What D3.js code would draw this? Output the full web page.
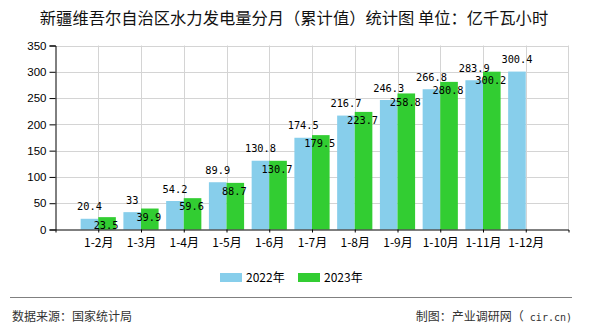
<!DOCTYPE html>
<html>
<head>
<meta charset="utf-8">
<script src="https://cdn.jsdelivr.net/npm/d3@7/dist/d3.min.js"></script>
<style>
  html, body { margin: 0; padding: 0; background: #fff; }
  svg { display: block; }
</style>
</head>
<body>
<svg id="chart" width="590" height="330"></svg>
<script>
// Monthly cumulative hydropower generation, Xinjiang (100 million kWh)
const categories = ["1-2月", "1-3月", "1-4月", "1-5月", "1-6月", "1-7月", "1-8月", "1-9月", "1-10月", "1-11月", "1-12月"];
const values2022 = [20.4, 33, 54.2, 89.9, 130.8, 174.5, 216.7, 246.3, 266.8, 283.9, 300.4];
const values2023 = [23.5, 39.9, 59.6, 88.7, 130.7, 179.5, 223.7, 258.8, 280.8, 300.2, null];
const yTicks = [0, 50, 100, 150, 200, 250, 300, 350];
const seriesNames = ["2022年", "2023年"];
const seriesColors = ["#87CEEB", "#32CD32"];

const titleText = "新疆维吾尔自治区水力发电量分月（累计值）统计图 单位：亿千瓦小时";
const sourceText = "数据来源：国家统计局";
const creditParts = ["制图：产业调研网（", " cir.cn)"];

const svg = d3.select("#chart");
const cjk = "'Noto Sans CJK SC', 'Noto Sans', sans-serif";
const mono = "'DejaVu Sans Mono', 'Liberation Mono', monospace";

const plot = { left: 55.5, right: 568.5, top: 45.5, bottom: 229.5 };

const x = d3.scalePoint().domain(categories).range([plot.left, plot.right]).padding(1);
const y = d3.scaleLinear().domain([0, 350]).range([plot.bottom, plot.top]);
const barW = 17.6;

// Title
svg.append("text")
  .attr("x", 294).attr("y", 24)
  .attr("text-anchor", "middle")
  .attr("font-family", cjk).attr("font-size", 16.3)
  .attr("fill", "#111")
  .text(titleText);

// Grid
const grid = svg.append("g").attr("stroke", "#d4d4d4").attr("stroke-width", 1);
grid.selectAll("line.h").data(yTicks.filter(d => d > 0)).join("line")
  .attr("x1", plot.left).attr("x2", plot.right)
  .attr("y1", d => Math.round(y(d)) + 0.5).attr("y2", d => Math.round(y(d)) + 0.5);
grid.selectAll("line.v").data(categories).join("line")
  .attr("x1", d => Math.round(x(d)) + 0.5).attr("x2", d => Math.round(x(d)) + 0.5)
  .attr("y1", plot.top).attr("y2", plot.bottom);
grid.append("line")
  .attr("x1", plot.right).attr("x2", plot.right)
  .attr("y1", plot.top).attr("y2", plot.bottom);

// Bars
const bars = svg.append("g");
bars.selectAll("rect.s22").data(categories).join("rect")
  .attr("x", (d) => x(d) - barW)
  .attr("y", (d, i) => y(values2022[i]))
  .attr("width", barW)
  .attr("height", (d, i) => y(0) - y(values2022[i]))
  .attr("fill", seriesColors[0]);
bars.selectAll("rect.s23").data(categories.filter((d, i) => values2023[i] != null)).join("rect")
  .attr("x", d => x(d))
  .attr("y", (d, i) => y(values2023[i]))
  .attr("width", barW)
  .attr("height", (d, i) => y(0) - y(values2023[i]))
  .attr("fill", seriesColors[1]);

// Value labels
const labels = svg.append("g")
  .attr("font-family", mono).attr("font-size", 10.3)
  .attr("fill", "#000").attr("text-anchor", "middle");
labels.selectAll("text.l22").data(categories).join("text")
  .attr("x", d => x(d) - barW / 2)
  .attr("y", (d, i) => y(values2022[i]) - 8.5)
  .text((d, i) => values2022[i]);
labels.selectAll("text.l23").data(categories.filter((d, i) => values2023[i] != null)).join("text")
  .attr("x", d => x(d) + barW / 2 - 1)
  .attr("y", (d, i) => y(values2023[i]) + 12.3)
  .text((d, i) => values2023[i]);

// Y axis
const yAxis = svg.append("g")
  .attr("transform", `translate(${plot.left},0)`)
  .call(d3.axisLeft(y).tickValues(yTicks).tickSize(6).tickPadding(3));
yAxis.select(".domain").attr("stroke", "#000");
yAxis.selectAll(".tick line").attr("stroke", "#000");
yAxis.selectAll("text")
  .attr("font-family", "'Liberation Sans', Arial, sans-serif")
  .attr("font-size", 11.5).attr("fill", "#000");

// X axis
const xAxis = svg.append("g")
  .attr("transform", `translate(0,${plot.bottom})`)
  .call(d3.axisBottom(x).tickSizeInner(3).tickSizeOuter(3).tickPadding(6));
xAxis.select(".domain").attr("stroke", "#000");
xAxis.selectAll(".tick line").attr("stroke", "#000");
xAxis.selectAll("text")
  .attr("font-family", cjk)
  .attr("font-size", 12).attr("fill", "#000");

// Legend
const legend = svg.append("g");
const legendX = [220, 298];
seriesNames.forEach((name, i) => {
  legend.append("rect")
    .attr("x", legendX[i]).attr("y", 273)
    .attr("width", 22).attr("height", 9)
    .attr("fill", seriesColors[i]);
  legend.append("text")
    .attr("x", legendX[i] + 26).attr("y", 282)
    .attr("font-family", cjk).attr("font-size", 12)
    .attr("fill", "#000")
    .text(name);
});

// Footer
svg.append("line")
  .attr("x1", 10).attr("x2", 572)
  .attr("y1", 297.5).attr("y2", 297.5)
  .attr("stroke", "#808080").attr("stroke-width", 1);
svg.append("text")
  .attr("x", 12).attr("y", 321)
  .attr("font-family", cjk).attr("font-size", 12)
  .attr("fill", "#333")
  .text(sourceText);
const credit = svg.append("text")
  .attr("x", 572).attr("y", 321)
  .attr("text-anchor", "end")
  .attr("font-size", 12)
  .attr("fill", "#333")
  .attr("xml:space", "preserve");
credit.append("tspan").attr("font-family", cjk).text(creditParts[0]);
credit.append("tspan").attr("font-family", mono).attr("font-size", 10).text(creditParts[1]);
</script>
</body>
</html>
